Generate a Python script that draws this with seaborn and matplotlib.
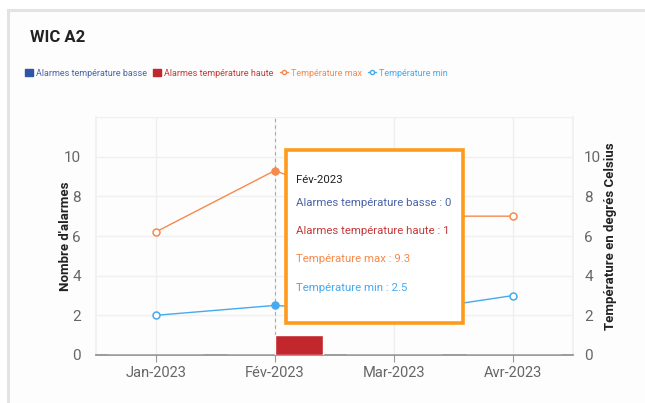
import matplotlib
matplotlib.use("Agg")
import matplotlib.pyplot as plt
from matplotlib.patches import Rectangle
from matplotlib.lines import Line2D
from matplotlib.patches import Patch
import seaborn as sns
import pandas as pd

# Monthly data
months = ["Jan-2023", "Fév-2023", "Mar-2023", "Avr-2023"]
alarms_low = [0, 0, 0, 0]
alarms_high = [0, 1, 0, 0]
temp_max = [6.2, 9.3, 7.0, 7.0]
temp_min = [2.0, 2.5, 2.1, 3.0]

label_low = "Alarmes température basse"
label_high = "Alarmes température haute"
label_max = "Température max"
label_min = "Température min"

hover = 1  # month under the cursor

c_low = "#2f56a6"
c_high = "#c1272d"
c_max = "#f58a4c"
c_min = "#45aaf0"
c_low_txt = "#4a64a8"
c_high_txt = "#c43a3a"

sns.set_theme(style="white")
plt.rcParams["font.family"] = ["Roboto", "DejaVu Sans"]

W, H = 645, 403
fig = plt.figure(figsize=(W / 100, H / 100), dpi=100)
fig.patch.set_facecolor("white")

def fx(px):
    return px / W

def fy(py):
    return 1 - py / H

# card
fig.add_artist(Rectangle((fx(8), fy(440)), 1.2, (440 - 10) / H, transform=fig.transFigure,
                         facecolor="#fdfdfd", edgecolor="#e3e3e3", lw=2.2, zorder=-5))

ax = fig.add_axes([fx(96), fy(355), fx(573) - fx(96), (355 - 117) / H])
ax.set_facecolor("none")

bars = pd.DataFrame({
    "month": months * 2,
    "count": alarms_low + alarms_high,
    "type": [label_low] * len(months) + [label_high] * len(months),
})
sns.barplot(data=bars, x="month", y="count", hue="type", order=months,
            hue_order=[label_low, label_high], palette=[c_low, c_high],
            width=0.8, gap=0.0, saturation=1, legend=False, ax=ax, zorder=3)

ax.set_ylim(0, 12)
ax.set_xlim(-0.5, 3.5)
ax.set_yticks(range(0, 11, 2))
ax.set_ylabel("Nombre d'alarmes", fontsize=9.5, fontweight="bold", color="#222222", labelpad=-6)
ax.set_xlabel("")
ax.tick_params(axis="y", labelsize=11, colors="#666666", length=0, pad=11)
ax.tick_params(axis="x", labelsize=10.5, colors="#666666", length=5, width=0.8, pad=3,
               color="#999999", direction="out")
ax.tick_params(axis="x", which="both", bottom=True)
for t in ax.get_xticklabels():
    t.set_color("#666666")

# grid
for v in range(2, 13, 2):
    ax.axhline(v, color="#f0f0f0", lw=1, zorder=0)
for i in range(len(months)):
    ax.axvline(i, color="#efefef", lw=1, zorder=0)
for s in ["left", "right", "top"]:
    ax.spines[s].set_color("#f0f0f0")
ax.spines["top"].set_visible(False)
ax.spines["bottom"].set_color("#8a8a8a")
ax.spines["bottom"].set_linewidth(1.2)

# hover crosshair
ax.axvline(hover, color="#aaaaaa", lw=0.8, ls=(0, (3, 3)), zorder=1)

# temperatures on the secondary axis
ax2 = ax.twinx()
temps = pd.DataFrame({"month": months, "max": temp_max, "min": temp_min})
sns.lineplot(data=temps, x="month", y="max", sort=False, color=c_max, lw=1,
             marker="o", markersize=5, markerfacecolor="white", markeredgecolor=c_max,
             markeredgewidth=1.1, ax=ax2, zorder=4)
sns.lineplot(data=temps, x="month", y="min", sort=False, color=c_min, lw=1,
             marker="o", markersize=5, markerfacecolor="white", markeredgecolor=c_min,
             markeredgewidth=1.1, ax=ax2, zorder=4)
sns.scatterplot(x=[months[hover]], y=[temp_max[hover]], color=c_max, s=22,
                edgecolor=c_max, ax=ax2, zorder=5)
sns.scatterplot(x=[months[hover]], y=[temp_min[hover]], color=c_min, s=22,
                edgecolor=c_min, ax=ax2, zorder=5)
ax2.set_ylim(0, 12)
ax2.set_xlim(-0.5, 3.5)
ax2.set_yticks(range(0, 11, 2))
ax2.set_ylabel("Température en degrés Celsius", fontsize=9.5, fontweight="bold",
               color="#222222", labelpad=2)
ax2.tick_params(axis="y", labelsize=11, colors="#666666", length=0, pad=8)
for s in ["left", "right", "top", "bottom"]:
    ax2.spines[s].set_visible(False)
ax2.grid(False)

# title and legend
fig.text(fx(30), fy(38), "WIC A2", fontsize=12, fontweight="bold", color="#222222",
         va="center", ha="left")
handles = [
    Patch(facecolor=c_low, edgecolor=c_low),
    Patch(facecolor=c_high, edgecolor=c_high),
    Line2D([], [], color=c_max, lw=1, marker="o", markersize=3,
           markerfacecolor="white", markeredgecolor=c_max),
    Line2D([], [], color=c_min, lw=1, marker="o", markersize=3,
           markerfacecolor="white", markeredgecolor=c_min),
]
leg = fig.legend(handles, [label_low, label_high, label_max, label_min],
                 loc="center left", bbox_to_anchor=(fx(17), fy(73)), ncol=4,
                 frameon=False, fontsize=6.5, handlelength=0.9, handleheight=0.8,
                 handletextpad=0.3, columnspacing=0.7)
for txt, col in zip(leg.get_texts(), [c_low_txt, c_high_txt, c_max, c_min]):
    txt.set_color(col)

# tooltip
fig.add_artist(Rectangle((fx(286), fy(323)), (463 - 286) / W, (323 - 150) / H,
                         transform=fig.transFigure, facecolor="white",
                         edgecolor="#ff9a1a", lw=2.6, zorder=10))
tip_lines = [
    (months[hover], "#222222", 180),
    (f"{label_low} : {alarms_low[hover]}", c_low_txt, 203),
    (f"{label_high} : {alarms_high[hover]}", c_high_txt, 231),
    (f"{label_max} : {temp_max[hover]}", c_max, 259),
    (f"{label_min} : {temp_min[hover]}", c_min, 288),
]
for text, col, py in tip_lines:
    fig.text(fx(296), fy(py), text, fontsize=8.2, color=col, va="center", ha="left",
             zorder=11)

fig.savefig("out.png", dpi=100)
